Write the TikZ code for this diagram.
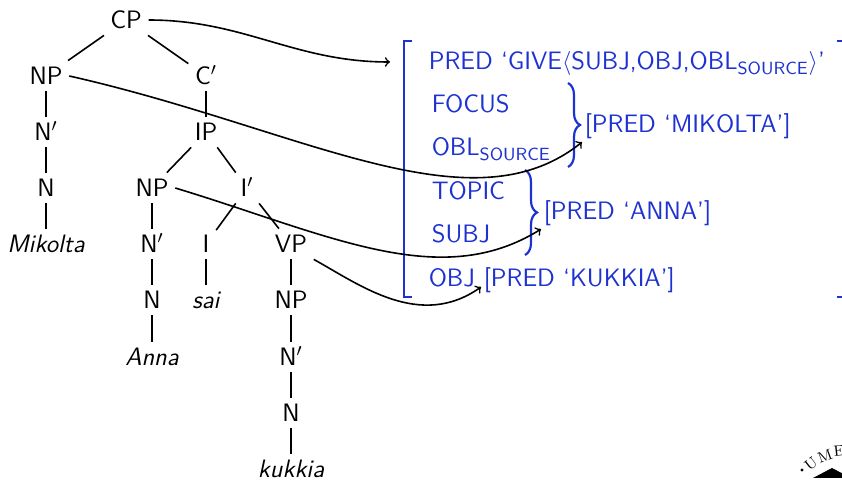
\documentclass[tikz,border=0pt]{standalone}
\usetikzlibrary{arrows,decorations.pathreplacing}
\definecolor{avmblue}{RGB}{30,50,210}
\newcommand\slidefont{\sffamily\fontsize{12.6}{15}\selectfont}
\tikzset{
  cat/.style={inner sep=3pt,text height=8.6pt,text depth=0pt},
  word/.style={cat,font=\slidefont\itshape},
  feat/.style={text=avmblue,anchor=base west,inner sep=1pt},
  link/.style={->,line width=0.8pt},
  avmline/.style={avmblue,line width=0.9pt},
  logo/.style={inner sep=0pt,font=\rmfamily\fontsize{7.5}{8}\selectfont},
}
\begin{document}
\begin{tikzpicture}[x=0.5pt,y=-0.5pt,line width=0.8pt,font=\slidefont]
\useasboundingbox (0,0) rectangle (842,480);
% tree
\foreach \n/\x/\y/\t in {cp/126/20/CP, npa/46/76/NP, cbar/206/76/C$'$,
    nbara/46/132/N$'$, ip/206/132/IP, na/46/188/N, npb/152/188/NP,
    ibar/247/188/I$'$, nbarb/152/244/N$'$, i/206/244/I, vp/291/244/VP,
    nb/152/300/N, npc/291/300/NP, nbarc/291/357/N$'$, nc/291/413/N}
  \node[cat] (\n) at (\x,\y) {\t};
\foreach \n/\x/\y/\t in {mik/46/244/Mikolta, sai/206/300/sai,
    anna/152/357/Anna, kuk/291/469/kukkia}
  \node[word] (\n) at (\x,\y) {\t};
\foreach \a/\b in {cp/npa, cp/cbar, cbar/ip, npa/nbara, nbara/na, na/mik,
    ip/npb, ip/ibar, npb/nbarb, nbarb/nb, nb/anna, ibar/i, ibar/vp, i/sai,
    vp/npc, npc/nbarc, nbarc/nc, nc/kuk}
  \draw (\a) -- (\b);
% f-structure
\node[feat] (pred) at (426,70) {PRED ‘GIVE$\langle$SUBJ,OBJ,OBL\textsubscript{SOURCE}$\rangle$’};
\node[feat] (focus) at (429,113) {FOCUS};
\node[feat] (obl) at (429,156) {OBL\textsubscript{SOURCE}};
\node[feat] (topic) at (429,200) {TOPIC};
\node[feat] (subj) at (429,243) {SUBJ};
\node[feat] (obj) at (426,287) {OBJ};
\node[feat] (mikf) at (582,133) {[PRED ‘MIKOLTA’]};
\node[feat] (annaf) at (541,220) {[PRED ‘ANNA’]};
\node[feat] (kukf) at (481,287) {[PRED ‘KUKKIA’]};
\draw[avmline] (412,41) -| (404,297) -- (412,297);
\draw[avmline] (837,41) -| (845,297) -- (837,297);
\draw[avmline,line width=1.1pt,decorate,decoration={brace,amplitude=6pt}] (568,83) -- (568,167);
\draw[avmline,line width=1.1pt,decorate,decoration={brace,amplitude=6pt}] (525,170) -- (525,255);
% links
\coordinate (avmin) at (390,62);
\draw[link] (cp.east) to[out=0,in=180] (avmin);
\draw[link] (npa.east) .. controls (300,128) and (470,232) .. (mikf.south west);
\draw[link] (npb.east) .. controls (330,235) and (440,292) .. (annaf.south west);
\draw[link] (vp.south east) .. controls (360,285) and (420,330) .. (kukf.base west);
% logo
\fill (802,470) circle (1.6);
\foreach \l/\x/\y/\r in {U/811/464/38, M/825/456/20, E/839/451/6}
  \node[logo,rotate=\r] at (\x,\y) {\l};
\fill (813,478) -- (832,468) -- (851,478) -- cycle;
\end{tikzpicture}
\end{document}
